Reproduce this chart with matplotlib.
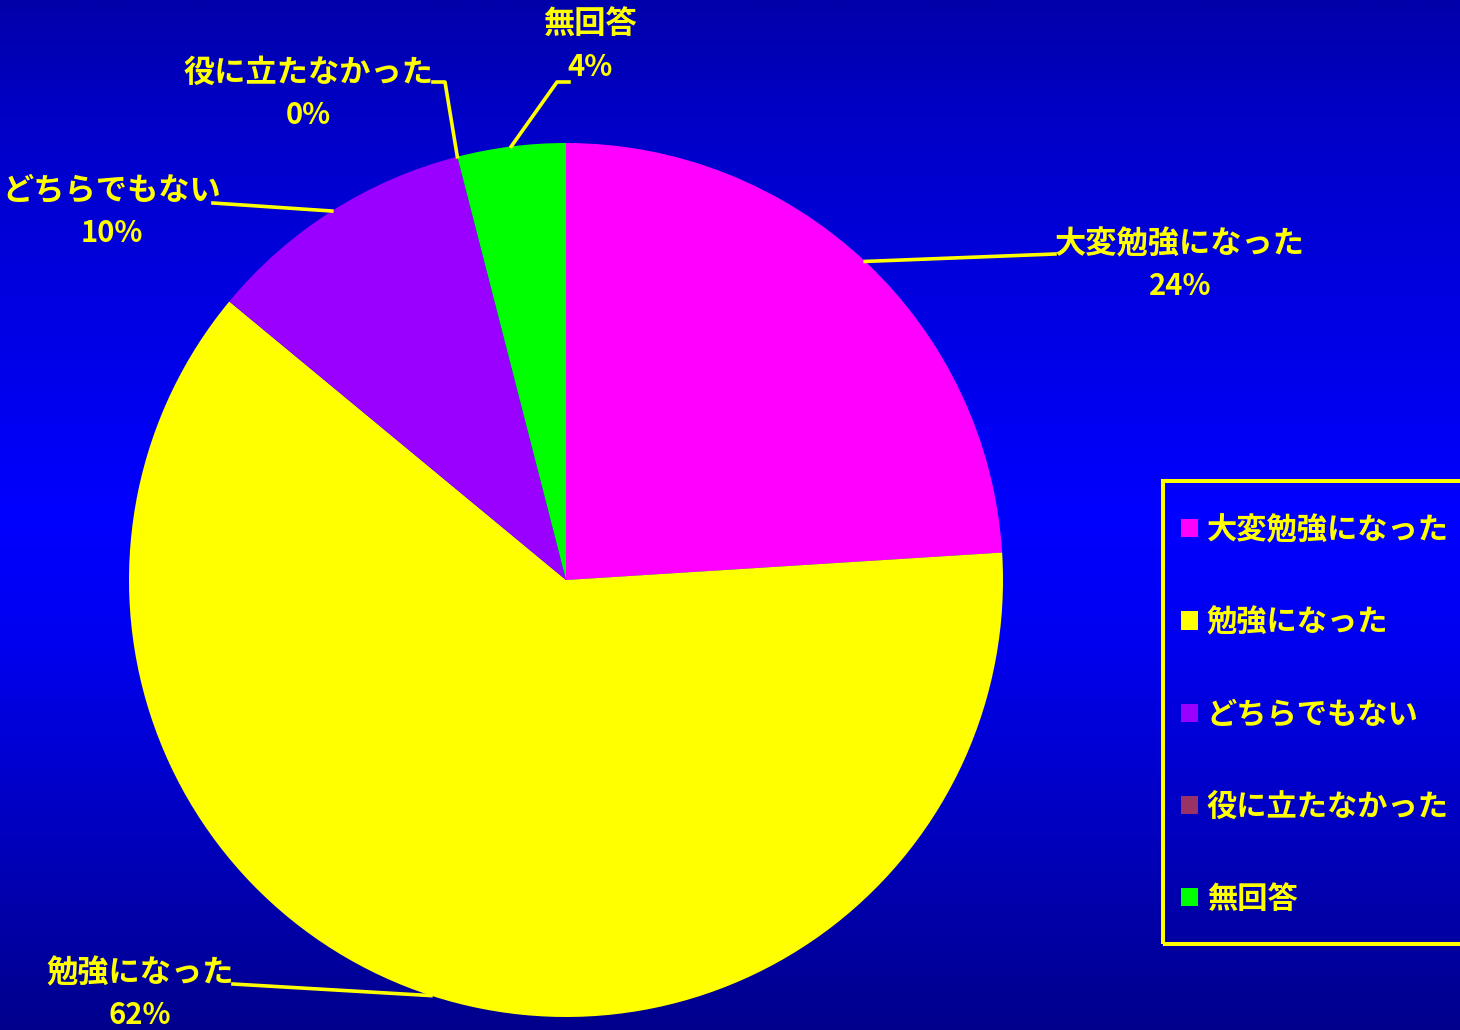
import numpy as np
import matplotlib
matplotlib.use("Agg")
import matplotlib.pyplot as plt
from matplotlib.colors import LinearSegmentedColormap
from matplotlib.patches import Rectangle

plt.rcParams["font.family"] = ["Noto Sans CJK JP", "DejaVu Sans"]
plt.rcParams["font.weight"] = "bold"

# アンケート結果
categories = ["大変勉強になった", "勉強になった", "どちらでもない", "役に立たなかった", "無回答"]
percents = [24, 62, 10, 0, 4]
colors = ["#ff00ff", "#ffff00", "#9900ff", "#993366", "#00ff00"]

W, H = 1460, 1030
fig = plt.figure(figsize=(W / 100, H / 100), dpi=100)

# 背景のグラデーション（上下が暗く、中央が明るい青）
bg = fig.add_axes([0, 0, 1, 1], zorder=-1)
cmap = LinearSegmentedColormap.from_list(
    "bg", [(0.0, "#0000aa"), (0.12, "#0000c8"), (0.5, "#0000ff"), (0.62, "#0000f0"), (1.0, "#00008c")]
)
grad = np.linspace(0, 1, 512).reshape(-1, 1)
bg.imshow(grad, cmap=cmap, aspect="auto", extent=[0, 1, 0, 1])
bg.set_axis_off()

# 円グラフ（中心 566,580 px、半径 437 px）
cx, cy, r = 566, 580, 437
ax = fig.add_axes([(cx - r) / W, (H - cy - r) / H, 2 * r / W, 2 * r / H])
wedges, _ = ax.pie(percents, colors=colors, startangle=90, counterclock=False,
                   radius=1, wedgeprops=dict(linewidth=0))
ax.set_xlim(-1, 1)
ax.set_ylim(-1, 1)
ax.set_axis_off()


def px(x, y):
    return x / W, 1 - y / H


# ラベルの配置（ピクセル）と引き出し線の折れ点
label_xy = [(1180, 244), (140, 973), (112, 191), (308, 73), (590, 25)]
knees = [
    [(1055, 254)],
    [(233, 984)],
    [(213, 203)],
    [(445, 82), (433, 82)],
    [(557, 82), (569, 82)],
]

to_fig = ax.transData + fig.transFigure.inverted()
for w, name, pct, (lx, ly), kn in zip(wedges, categories, percents, label_xy, knees):
    mid = np.deg2rad((w.theta1 + w.theta2) / 2)
    start = to_fig.transform((np.cos(mid), np.sin(mid)))
    pts = [start] + [px(*k) for k in kn]
    xs, ys = zip(*pts)
    fig.add_artist(plt.Line2D(xs, ys, color="#ffff00", lw=2.6, transform=fig.transFigure))
    fig.text(*px(lx, ly), name, color="#ffff00", fontsize=22.5, ha="center", va="center")
    fig.text(*px(lx, ly + 42), f"{pct}%", color="#ffff00", fontsize=21, ha="center", va="center")

# 凡例（枠は右端で切れる）
fx0, fy0 = px(1163, 944)
fx1, fy1 = px(1490, 481)
fig.add_artist(Rectangle((fx0, fy0), fx1 - fx0, fy1 - fy0, transform=fig.transFigure,
                         facecolor="none", edgecolor="#ffff00", linewidth=2.9))
fig.legend(wedges, categories, loc="upper left", bbox_to_anchor=px(1181, 514),
           bbox_transform=fig.transFigure, fontsize=21.8, labelcolor="#ffff00",
           frameon=False, borderpad=0, labelspacing=1.99,
           handlelength=0.55, handleheight=0.55, handletextpad=0.3, borderaxespad=0)

fig.savefig("out.png", dpi=100)
